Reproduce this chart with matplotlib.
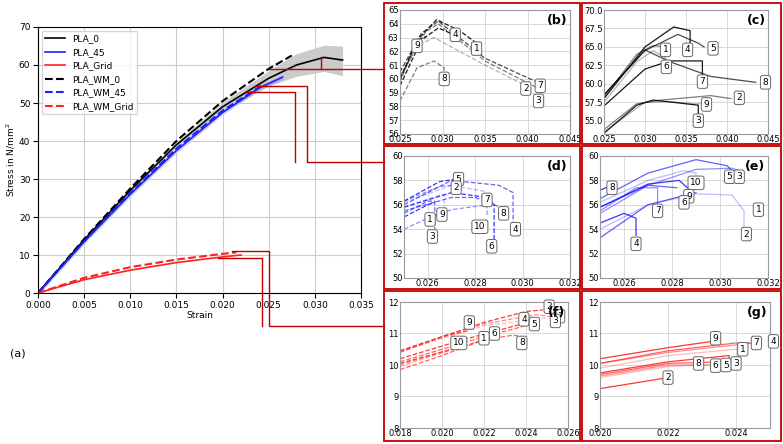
import numpy as np
import matplotlib
matplotlib.use("Agg")
from matplotlib import pyplot as plt
from matplotlib.patches import Rectangle

W, H = 783, 444

# main plot data (strain, stress)
pla0_x = [0, 0.005, 0.010, 0.015, 0.020, 0.025, 0.028, 0.031, 0.033]
pla0_y = [0, 14.0, 27.0, 39.0, 49.0, 56.5, 60.0, 62.0, 61.3]
pla0_lo = [0, 14.0, 26.6, 38.3, 47.8, 54.5, 57.0, 58.3, 57.2]
pla0_hi = [0, 14.0, 27.4, 39.7, 50.2, 58.5, 63.0, 65.2, 65.0]
pla45_x = [0, 0.005, 0.010, 0.015, 0.020, 0.024, 0.0265]
pla45_y = [0, 13.5, 26.0, 37.5, 47.5, 54.0, 56.8]
grid_x = [0, 0.005, 0.010, 0.015, 0.020, 0.022]
grid_y = [0, 3.5, 6.0, 8.0, 9.5, 10.0]
wm0_x = [0, 0.005, 0.010, 0.015, 0.020, 0.025, 0.0275]
wm0_y = [0, 14.2, 27.5, 40.0, 50.5, 59.0, 62.5]
wm45_x = [0, 0.005, 0.010, 0.015, 0.020, 0.0245]
wm45_y = [0, 13.6, 26.3, 38.0, 48.0, 55.0]
wmgrid_x = [0, 0.005, 0.010, 0.015, 0.020, 0.0215]
wmgrid_y = [0, 4.0, 6.8, 8.8, 10.3, 10.7]

# inset curves: label -> (x, y, label position)
ins_b = {
    '1': ([0.025, 0.027, 0.0293, 0.032, 0.034], [60.0, 62.8, 64.3, 63.5, 62.6], (0.034, 62.2)),
    '7': ([0.025, 0.0275, 0.0295, 0.035, 0.041], [60.5, 63.3, 64.2, 61.5, 59.8], (0.0415, 59.5)),
    '3': ([0.025, 0.028, 0.0295, 0.035, 0.0413, 0.0413], [60.2, 63.4, 64.0, 61.3, 59.3, 58.8], (0.0413, 58.4)),
    '2': ([0.025, 0.027, 0.029, 0.035, 0.0398], [60.0, 62.4, 63.0, 61.0, 59.5], (0.0398, 59.3)),
    '4': ([0.025, 0.0275, 0.0295, 0.031], [59.5, 62.8, 63.7, 63.3], (0.0315, 63.2)),
    '9': ([0.025, 0.027, 0.028], [59.8, 62.8, 63.1], (0.027, 62.4)),
    '8': ([0.025, 0.027, 0.029, 0.0302, 0.0302], [58.4, 60.8, 61.3, 60.8, 60.3], (0.0302, 60.0)),
}
ins_c = {
    '4': ([0.025, 0.030, 0.0335, 0.0355, 0.0355], [58.0, 65.0, 67.7, 67.2, 65.5], (0.0352, 64.6)),
    '5': ([0.025, 0.030, 0.034, 0.0365, 0.0372], [58.5, 64.5, 66.7, 65.5, 65.0], (0.0383, 64.8)),
    '1': ([0.025, 0.029, 0.031, 0.0325], [58.2, 64.0, 65.2, 65.0], (0.0325, 64.6)),
    '6': ([0.025, 0.029, 0.031, 0.0325, 0.0325], [57.5, 63.0, 64.5, 63.5, 62.7], (0.0326, 62.3)),
    '7': ([0.025, 0.030, 0.033, 0.037, 0.037], [57.0, 62.0, 63.1, 63.1, 61.0], (0.037, 60.3)),
    '8': ([0.025, 0.030, 0.033, 0.038, 0.0435], [58.5, 64.6, 63.0, 61.0, 60.2], (0.0447, 60.2)),
    '2': ([0.025, 0.029, 0.032, 0.036, 0.038, 0.0405], [53.8, 57.3, 57.8, 58.2, 58.4, 58.0], (0.0415, 58.1)),
    '9': ([0.025, 0.030, 0.033, 0.036, 0.0367], [53.5, 57.5, 57.6, 57.3, 57.3], (0.0375, 57.2)),
    '3': ([0.025, 0.029, 0.031, 0.0365, 0.0365], [53.3, 57.1, 57.8, 57.1, 55.5], (0.0365, 55.0)),
}
ins_d = {
    '5': ([0.025, 0.0265, 0.0275], [56.3, 57.9, 58.2], (0.0273, 58.1)),
    '4': ([0.025, 0.027, 0.029, 0.0296, 0.0296], [56.0, 58.0, 57.6, 57.0, 54.6], (0.0297, 54.0)),
    '2': ([0.025, 0.0265, 0.027], [56.3, 57.5, 57.6], (0.0272, 57.4)),
    '7': ([0.025, 0.027, 0.0284, 0.0285], [56.2, 57.6, 57.1, 56.7], (0.0285, 56.4)),
    '6': ([0.025, 0.027, 0.0285, 0.0288, 0.0288], [55.8, 57.0, 56.6, 56.0, 53.0], (0.0287, 52.6)),
    '8': ([0.025, 0.027, 0.028, 0.0292], [55.5, 56.6, 56.6, 55.7], (0.0292, 55.3)),
    '10': ([0.025, 0.026, 0.027, 0.0285, 0.0285], [54.0, 54.9, 55.6, 56.0, 55.0], (0.0282, 54.2)),
    '9': ([0.025, 0.0265, 0.0267, 0.0267], [55.8, 56.8, 56.8, 55.8], (0.0266, 55.2)),
    '1': ([0.025, 0.026, 0.0263], [55.0, 56.0, 56.2], (0.0261, 54.8)),
    '3': ([0.025, 0.026, 0.0263, 0.0263], [55.3, 56.3, 56.3, 54.0], (0.0262, 53.4)),
}
ins_e = {
    '8': ([0.025, 0.0255], [57.2, 57.6], (0.0255, 57.4)),
    '5': ([0.025, 0.027, 0.029, 0.0303, 0.0305], [56.5, 58.6, 59.7, 59.2, 58.8], (0.0304, 58.3)),
    '3': ([0.025, 0.027, 0.029, 0.0305, 0.0308], [55.3, 57.6, 58.9, 59.0, 58.8], (0.0308, 58.3)),
    '10': ([0.025, 0.027, 0.0285, 0.029, 0.029], [56.2, 58.0, 58.8, 58.6, 58.3], (0.029, 57.8)),
    '9': ([0.025, 0.027, 0.0283, 0.0287], [55.8, 57.7, 58.0, 57.3], (0.0287, 56.7)),
    '6': ([0.025, 0.027, 0.0282], [55.8, 57.6, 57.4], (0.0285, 56.2)),
    '7': ([0.025, 0.0265, 0.0274, 0.0274], [55.5, 57.4, 57.4, 56.0], (0.0274, 55.5)),
    '2': ([0.025, 0.027, 0.029, 0.0305, 0.031, 0.031], [54.0, 56.0, 56.9, 56.8, 55.5, 54.0], (0.0311, 53.6)),
    '4': ([0.025, 0.026, 0.0265, 0.0265], [54.5, 55.3, 54.9, 53.5], (0.0265, 52.8)),
    '1': ([0.025, 0.027, 0.029], [53.3, 56.0, 57.0], (0.0316, 55.6)),
}
ins_f = {
    '2': ([0.018, 0.020, 0.022, 0.024, 0.0248], [10.45, 10.9, 11.35, 11.7, 11.75], (0.0251, 11.85)),
    '9': ([0.018, 0.020, 0.0213], [10.4, 10.9, 11.1], (0.0213, 11.35)),
    '7': ([0.018, 0.022, 0.0245, 0.0255], [10.45, 11.3, 11.6, 11.5], (0.0256, 11.55)),
    '3': ([0.018, 0.022, 0.025], [10.42, 11.25, 11.5], (0.0254, 11.4)),
    '4': ([0.018, 0.021, 0.0238], [10.2, 10.8, 11.3], (0.0239, 11.45)),
    '5': ([0.018, 0.022, 0.0243], [10.1, 10.9, 11.3], (0.0244, 11.3)),
    '6': ([0.018, 0.0225], [10.0, 10.9], (0.0225, 11.0)),
    '1': ([0.018, 0.022], [9.95, 10.8], (0.022, 10.85)),
    '10': ([0.018, 0.021], [10.05, 10.6], (0.0208, 10.7)),
    '8': ([0.018, 0.020, 0.022, 0.0234, 0.0238], [9.85, 10.3, 10.8, 10.95, 10.9], (0.0238, 10.7)),
}
ins_g = {
    '9': ([0.020, 0.022, 0.0233], [10.2, 10.55, 10.75], (0.0234, 10.85)),
    '7': ([0.020, 0.022, 0.024, 0.0244], [10.05, 10.45, 10.7, 10.7], (0.0246, 10.7)),
    '4': ([0.020, 0.022, 0.0245], [10.05, 10.4, 10.7], (0.0251, 10.75)),
    '1': ([0.020, 0.022, 0.024], [9.9, 10.3, 10.5], (0.0242, 10.5)),
    '3': ([0.020, 0.022, 0.0238, 0.0238], [9.75, 10.1, 10.3, 10.05], (0.0240, 10.05)),
    '5': ([0.020, 0.022, 0.0236], [9.7, 10.05, 10.1], (0.0237, 10.0)),
    '6': ([0.020, 0.022, 0.0233], [9.65, 10.0, 10.0], (0.0234, 9.98)),
    '8': ([0.020, 0.022, 0.0228], [9.6, 9.95, 10.0], (0.0229, 10.05)),
    '2': ([0.020, 0.022], [9.25, 9.6], (0.022, 9.6)),
}

fig = plt.figure(figsize=(W / 100, H / 100), dpi=100)


def px_axes(x0, y0, x1, y1):
    return fig.add_axes([x0 / W, 1 - y1 / H, (x1 - x0) / W, (y1 - y0) / H])


# main axes
ax = px_axes(38, 27, 361, 293)
ax.fill_between(pla0_x, pla0_lo, pla0_hi, color='0.6', alpha=0.5, lw=0)
ax.fill_between(pla45_x, np.array(pla45_y) - 0.6, np.array(pla45_y) + 0.6, color='#8080ff', alpha=0.4, lw=0)
ax.plot(pla0_x, pla0_y, 'k-', lw=1.2, label='PLA_0')
ax.plot(pla45_x, pla45_y, '-', color='#2020ff', lw=1.2, label='PLA_45')
ax.plot(grid_x, grid_y, '-', color='#ff2020', lw=1.2, label='PLA_Grid')
ax.plot(wm0_x, wm0_y, 'k--', lw=1.5, label='PLA_WM_0')
ax.plot(wm45_x, wm45_y, '--', color='#2020ff', lw=1.5, label='PLA_WM_45')
ax.plot(wmgrid_x, wmgrid_y, '--', color='#ff2020', lw=1.5, label='PLA_WM_Grid')
ax.set_xlim(0, 0.035)
ax.set_ylim(0, 70)
ax.set_xticks(np.arange(0, 0.0351, 0.005))
ax.set_xticklabels([f'{v:.3f}' for v in np.arange(0, 0.0351, 0.005)])
ax.tick_params(labelsize=6.5, pad=2)
ax.grid(True, color='0.8')
ax.set_xlabel('Strain', fontsize=6.5, labelpad=1)
ax.set_ylabel('Stress in N/mm$^2$', fontsize=6.5, labelpad=1)
ax.legend(loc='upper left', fontsize=6.5, handlelength=2.2, borderaxespad=0.4)
fig.text(18 / W, 1 - 354 / H, '(a)', fontsize=8, ha='center', va='center')

# connector lines (data coords of main axes, extended beyond it)
red = '#c00000'
xe, ylow, ymid = 0.0375, -8.7, 34.5
conn = [
    ([0.025, xe], [59, 59]), ([0.0307, 0.0307], [59, 62]),
    ([0.0235, 0.0292, 0.0292, xe], [54.5, 54.5, ymid, ymid]),
    ([0.0225, 0.0278, 0.0278], [53, 53, ymid]),
    ([0.021, 0.025, 0.025, xe], [11, 11, ylow, ylow]),
    ([0.0195, 0.0243, 0.0243], [9.3, 9.3, ylow]),
]
for cx, cy in conn:
    ax.plot(cx, cy, color=red, lw=1.0, clip_on=False)

# red panel frames
for (x0, y0, x1, y1) in [(384, 3, 580, 144), (384, 146, 580, 289), (384, 291, 580, 441),
                         (582, 3, 781, 144), (582, 146, 781, 289), (582, 291, 781, 441)]:
    fig.patches.append(Rectangle((x0 / W, 1 - y1 / H), (x1 - x0) / W, (y1 - y0) / H,
                                 transform=fig.transFigure, fill=False, ec=red, lw=1.3))

panels = [
    ('(b)', ins_b, (400, 10, 570, 134), (0.025, 0.045), (56, 65), np.arange(0.025, 0.0451, 0.005),
     np.arange(56, 65.1, 1), 'k', '--', '{:.0f}'),
    ('(c)', ins_c, (604, 10, 768, 134), (0.025, 0.045), (53.2, 70), np.arange(0.025, 0.0451, 0.005),
     np.arange(55, 70.1, 2.5), 'k', '-', '{:.1f}'),
    ('(d)', ins_d, (404, 156, 570, 278), (0.025, 0.032), (50, 60), np.arange(0.026, 0.0321, 0.002),
     np.arange(50, 60.1, 2), '#2020ff', '--', '{:.0f}'),
    ('(e)', ins_e, (600, 156, 768, 278), (0.025, 0.032), (50, 60), np.arange(0.026, 0.0321, 0.002),
     np.arange(50, 60.1, 2), '#2020ff', '-', '{:.0f}'),
    ('(f)', ins_f, (400, 302, 568, 428), (0.018, 0.026), (8, 12), np.arange(0.018, 0.0261, 0.002),
     np.arange(8, 12.1, 1), '#ff2020', '--', '{:.0f}'),
    ('(g)', ins_g, (600, 302, 770, 428), (0.020, 0.025), (8, 12), np.arange(0.020, 0.0251, 0.002),
     np.arange(8, 12.1, 1), '#ff2020', '-', '{:.0f}'),
]

for tag, curves, box, xl, yl, xt, yt, col, ls, yfmt in panels:
    a = px_axes(*box)
    for i, (lab, (cx, cy, lp)) in enumerate(curves.items()):
        alpha = 0.9 - 0.6 * (i % 4) / 3
        a.plot(cx, cy, ls, color=col, alpha=alpha, lw=0.9)
        a.text(lp[0], lp[1], lab, fontsize=6.5, ha='center', va='center',
               bbox=dict(boxstyle='round,pad=0.25', fc='white', ec='0.4', lw=0.7))
    a.set_xlim(*xl)
    a.set_ylim(*yl)
    a.set_xticks(xt)
    a.set_xticklabels([f'{v:.3f}' for v in xt])
    a.set_yticks(yt)
    a.set_yticklabels([yfmt.format(v) for v in yt])
    a.tick_params(labelsize=6, length=0, pad=1)
    a.grid(True, color='0.85', lw=0.7)
    for s in a.spines.values():
        s.set_color('0.6')
    a.text(0.985, 0.97, tag, transform=a.transAxes, ha='right', va='top',
           fontsize=9, fontweight='bold')

fig.savefig('out.png', dpi=100)
